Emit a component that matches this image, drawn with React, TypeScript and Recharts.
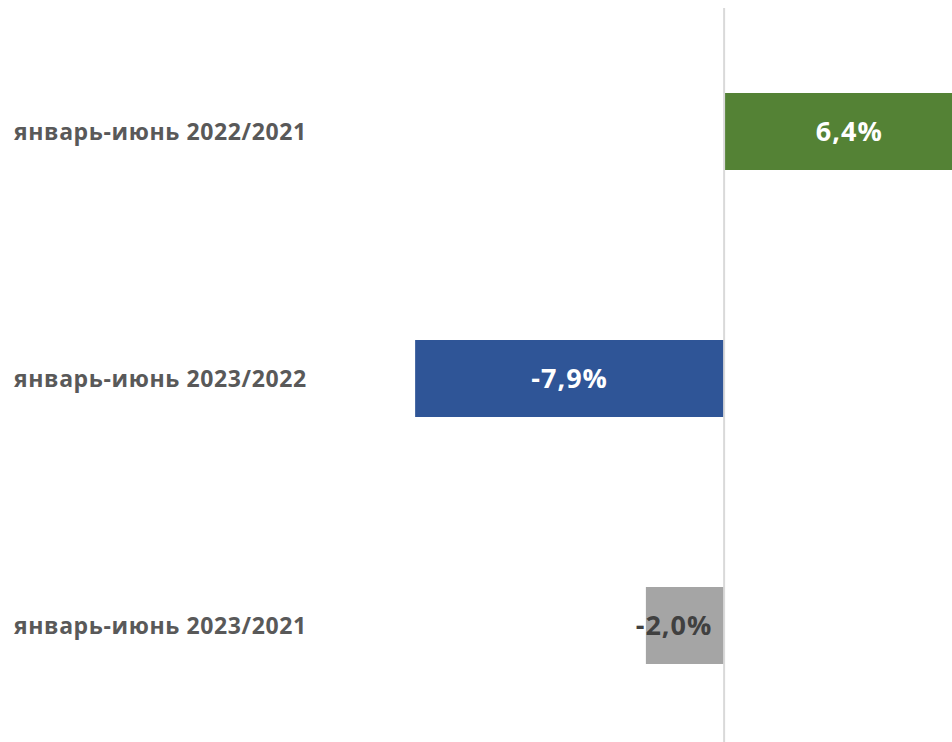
import { BarChart, Bar, XAxis, YAxis, ReferenceLine, Cell, LabelList } from 'recharts';

const periods = ['январь-июнь 2022/2021', 'январь-июнь 2023/2022', 'январь-июнь 2023/2021'];
const changes = [6.4, -7.9, -2.0];
const barColors = ['#548235', '#2F5597', '#A5A5A5'];
const labelColors = ['#FFFFFF', '#FFFFFF', '#404040'];

const chartData = periods.map((period, i) => ({ period, change: changes[i] }));

const FONT = '"Open Sans", Lato, sans-serif';

function PeriodTick(props: any) {
  const { y, payload } = props;
  return (
    <text
      x={14}
      y={y}
      dy={8}
      textAnchor="start"
      fill="#595959"
      fontFamily={FONT}
      fontWeight={700}
      fontSize={23}
      letterSpacing={0.6}
    >
      {payload.value}
    </text>
  );
}

function ValueLabel(props: any) {
  const { x, y, width, height, index, value } = props;
  const cx = index === 2 ? x + width / 2 - 11 : x + width / 2;
  const text = (value > 0 ? '' : '-') + Math.abs(value).toFixed(1).replace('.', ',') + '%';
  return (
    <text
      x={cx}
      y={y + height / 2}
      dy={9}
      textAnchor="middle"
      fill={labelColors[index]}
      fontFamily={FONT}
      fontWeight={700}
      fontSize={27}
      letterSpacing={1}
    >
      {text}
    </text>
  );
}

export default function App() {
  return (
    <div style={{ position: 'fixed', left: 0, top: 0, width: 952, height: 742, overflow: 'hidden', background: '#fff' }}>
      <BarChart
        width={1037}
        height={760}
        data={chartData}
        layout="vertical"
        margin={{ top: 8, right: 0, bottom: 11, left: 0 }}
      >
        <XAxis type="number" domain={[-10, 8]} hide />
        <YAxis
          type="category"
          dataKey="period"
          width={333}
          axisLine={false}
          tickLine={false}
          tick={<PeriodTick />}
        />
        <ReferenceLine x={0} stroke="#D9D9D9" strokeWidth={2} />
        <Bar dataKey="change" barSize={77} isAnimationActive={false}>
          {chartData.map((d, i) => (
            <Cell key={d.period} fill={barColors[i]} />
          ))}
          <LabelList dataKey="change" content={<ValueLabel />} />
        </Bar>
      </BarChart>
    </div>
  );
}
